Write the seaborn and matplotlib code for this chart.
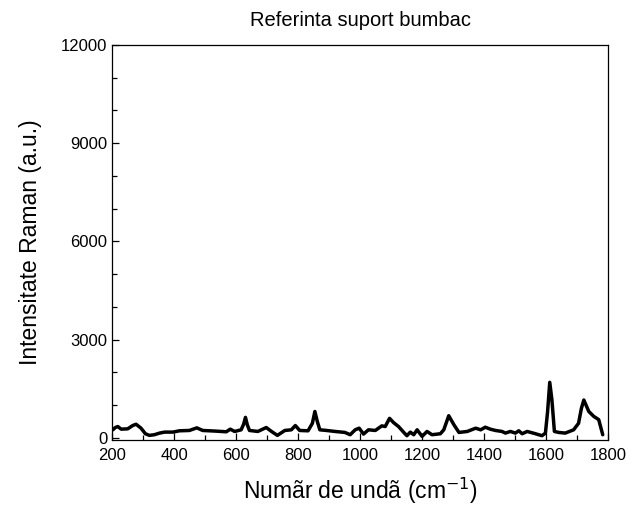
import matplotlib
matplotlib.use("Agg")
import matplotlib.pyplot as plt
from matplotlib.ticker import MultipleLocator
import seaborn as sns
import pandas as pd

# Raman spectrum of the cotton reference support
wavenumber = [202, 210, 218, 229, 250, 266, 277, 293, 307, 320, 336, 353, 369, 396, 417, 449,
              473, 492, 535, 568, 581, 595, 616, 624, 630, 636, 643, 670, 697, 714, 733, 757,
              778, 791, 805, 832, 846, 854, 862, 870, 892, 919, 951, 968, 984, 997, 1011, 1027,
              1049, 1070, 1081, 1095, 1108, 1124, 1141, 1151, 1162, 1173, 1184, 1200,
              1216, 1232, 1259, 1270, 1286, 1303, 1319, 1346, 1373, 1389, 1404, 1420,
              1437, 1458, 1469, 1485, 1501, 1512, 1523, 1539, 1566, 1587, 1598, 1605,
              1612, 1619, 1627, 1641, 1662, 1689, 1705, 1714, 1722, 1738, 1754, 1770, 1783]
intensity = [250, 320, 350, 270, 280, 380, 420, 300, 130, 80, 100, 150, 180, 180, 220, 230,
             310, 230, 210, 190, 270, 200, 250, 420, 630, 400, 230, 200, 320, 200, 80, 230,
             250, 380, 230, 220, 450, 810, 500, 250, 230, 200, 170, 100, 250, 300, 120, 250,
             230, 370, 350, 600, 470, 350, 170, 70, 180, 100, 250, 50,
             200, 100, 130, 250, 680, 400, 170, 200, 300, 250, 330, 270,
             230, 200, 150, 200, 150, 220, 130, 200, 130, 70, 150, 800,
             1700, 1160, 200, 170, 150, 250, 450, 900, 1160, 810, 660, 560, 100]

x_ticks = [200, 400, 600, 800, 1000, 1200, 1400, 1600, 1800]
y_ticks = [0, 3000, 6000, 9000, 12000]

spectrum = pd.DataFrame({"wavenumber": wavenumber, "intensity": intensity})

sns.set_style("ticks")
plt.rcParams["font.family"] = ["Liberation Sans", "DejaVu Sans"]
plt.rcParams["text.color"] = "black"
plt.rcParams["axes.labelcolor"] = "black"

fig = plt.figure(figsize=(6.34, 5.17), dpi=100)
ax = fig.add_axes([0.177, 0.149, 0.782, 0.764])

sns.lineplot(data=spectrum, x="wavenumber", y="intensity", ax=ax,
             color="black", linewidth=2.5)

ax.set_xlim(200, 1800)
ax.set_ylim(-60, 12000)
ax.set_xticks(x_ticks)
ax.set_yticks(y_ticks)
ax.xaxis.set_minor_locator(MultipleLocator(100))
ax.yaxis.set_minor_locator(MultipleLocator(1000))
ax.tick_params(which="both", direction="in", top=False, right=False,
               labelsize=12, colors="black", width=0.9)
ax.tick_params(which="major", length=5)
ax.tick_params(which="minor", length=3.5)
ax.tick_params(axis="x", pad=6)
for side in ax.spines.values():
    side.set_linewidth(0.9)
    side.set_color("black")

ax.set_xlabel("Numãr de undã (cm$^{-1}$)", fontsize=16.5, labelpad=9, color="black")
ax.set_ylabel("Intensitate Raman (a.u.)", fontsize=16.5, labelpad=14, color="black")
ax.set_title("Referinta suport bumbac", fontsize=14.5, pad=14, color="black")

fig.savefig("out.png", dpi=100, facecolor="white")
